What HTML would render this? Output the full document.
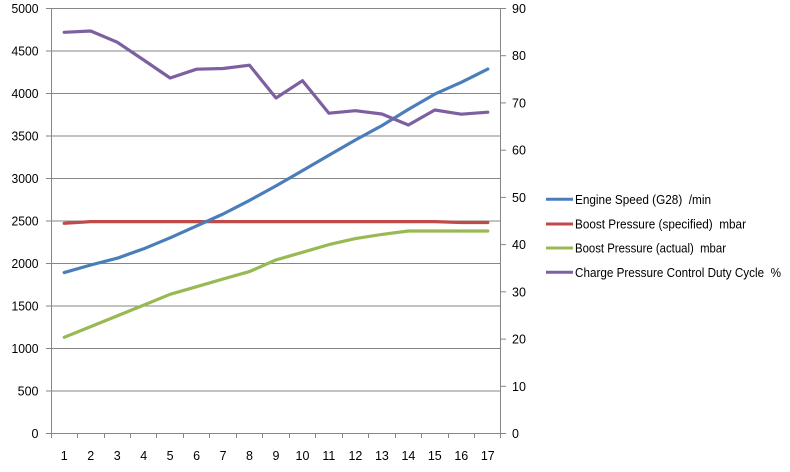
<!DOCTYPE html>
<html><head><meta charset="utf-8"><style>
html,body{margin:0;padding:0;background:#fff;}
svg{display:block;}
text{font-family:"Liberation Sans",Arial,sans-serif;fill:#000;}
</style></head><body>
<svg width="790" height="472" viewBox="0 0 790 472" xmlns="http://www.w3.org/2000/svg">
<rect width="790" height="472" fill="#fff"/>
<!-- gridlines -->
<g stroke="#868686" stroke-width="1">
<line x1="51" y1="8.5" x2="501" y2="8.5"/>
<line x1="51" y1="51" x2="501" y2="51"/>
<line x1="51" y1="93.5" x2="501" y2="93.5"/>
<line x1="51" y1="136" x2="501" y2="136"/>
<line x1="51" y1="178.5" x2="501" y2="178.5"/>
<line x1="51" y1="221" x2="501" y2="221"/>
<line x1="51" y1="263.5" x2="501" y2="263.5"/>
<line x1="51" y1="306" x2="501" y2="306"/>
<line x1="51" y1="348.5" x2="501" y2="348.5"/>
<line x1="51" y1="391" x2="501" y2="391"/>
<!-- axes -->
<line x1="51.5" y1="8" x2="51.5" y2="434"/>
<line x1="500.5" y1="8" x2="500.5" y2="434"/>
<line x1="46" y1="433.5" x2="506" y2="433.5"/>
<!-- left ticks -->
<line x1="46" y1="8.5" x2="51" y2="8.5"/>
<line x1="46" y1="51" x2="51" y2="51"/>
<line x1="46" y1="93.5" x2="51" y2="93.5"/>
<line x1="46" y1="136" x2="51" y2="136"/>
<line x1="46" y1="178.5" x2="51" y2="178.5"/>
<line x1="46" y1="221" x2="51" y2="221"/>
<line x1="46" y1="263.5" x2="51" y2="263.5"/>
<line x1="46" y1="306" x2="51" y2="306"/>
<line x1="46" y1="348.5" x2="51" y2="348.5"/>
<line x1="46" y1="391" x2="51" y2="391"/>
<!-- right ticks -->
<line x1="501" y1="8.5" x2="506" y2="8.5"/>
<line x1="501" y1="55.7" x2="506" y2="55.7"/>
<line x1="501" y1="102.9" x2="506" y2="102.9"/>
<line x1="501" y1="150.2" x2="506" y2="150.2"/>
<line x1="501" y1="197.4" x2="506" y2="197.4"/>
<line x1="501" y1="244.6" x2="506" y2="244.6"/>
<line x1="501" y1="291.8" x2="506" y2="291.8"/>
<line x1="501" y1="339.1" x2="506" y2="339.1"/>
<line x1="501" y1="386.3" x2="506" y2="386.3"/>
<!-- bottom ticks -->
<line x1="51.5" y1="433" x2="51.5" y2="438"/>
<line x1="77.5" y1="433" x2="77.5" y2="438"/>
<line x1="104.5" y1="433" x2="104.5" y2="438"/>
<line x1="130.5" y1="433" x2="130.5" y2="438"/>
<line x1="156.5" y1="433" x2="156.5" y2="438"/>
<line x1="183.5" y1="433" x2="183.5" y2="438"/>
<line x1="209.5" y1="433" x2="209.5" y2="438"/>
<line x1="236.5" y1="433" x2="236.5" y2="438"/>
<line x1="262.5" y1="433" x2="262.5" y2="438"/>
<line x1="289.5" y1="433" x2="289.5" y2="438"/>
<line x1="315.5" y1="433" x2="315.5" y2="438"/>
<line x1="342.5" y1="433" x2="342.5" y2="438"/>
<line x1="368.5" y1="433" x2="368.5" y2="438"/>
<line x1="395.5" y1="433" x2="395.5" y2="438"/>
<line x1="421.5" y1="433" x2="421.5" y2="438"/>
<line x1="448.5" y1="433" x2="448.5" y2="438"/>
<line x1="474.5" y1="433" x2="474.5" y2="438"/>
<line x1="500.5" y1="433" x2="500.5" y2="438"/>
</g>
<!-- left labels -->
<g font-size="12.5" text-anchor="end">
<text x="38.5" y="13" textLength="27" lengthAdjust="spacingAndGlyphs">5000</text>
<text x="38.5" y="55.5" textLength="27" lengthAdjust="spacingAndGlyphs">4500</text>
<text x="38.5" y="98" textLength="27" lengthAdjust="spacingAndGlyphs">4000</text>
<text x="38.5" y="140.5" textLength="27" lengthAdjust="spacingAndGlyphs">3500</text>
<text x="38.5" y="183" textLength="27" lengthAdjust="spacingAndGlyphs">3000</text>
<text x="38.5" y="225.5" textLength="27" lengthAdjust="spacingAndGlyphs">2500</text>
<text x="38.5" y="268" textLength="27" lengthAdjust="spacingAndGlyphs">2000</text>
<text x="38.5" y="310.5" textLength="27" lengthAdjust="spacingAndGlyphs">1500</text>
<text x="38.5" y="353" textLength="27" lengthAdjust="spacingAndGlyphs">1000</text>
<text x="38.5" y="395.5">500</text>
<text x="38.5" y="438">0</text>
</g>
<!-- right labels -->
<g font-size="12.5" text-anchor="start">
<text x="512" y="13">90</text>
<text x="512" y="60.2">80</text>
<text x="512" y="107.4">70</text>
<text x="512" y="154.7">60</text>
<text x="512" y="201.9">50</text>
<text x="512" y="249.1">40</text>
<text x="512" y="296.3">30</text>
<text x="512" y="343.6">20</text>
<text x="512" y="390.8">10</text>
<text x="512" y="438">0</text>
</g>
<!-- x labels -->
<g font-size="12.5" text-anchor="middle">
<text x="64.2" y="459.8">1</text>
<text x="90.7" y="459.8">2</text>
<text x="117.2" y="459.8">3</text>
<text x="143.7" y="459.8">4</text>
<text x="170.1" y="459.8">5</text>
<text x="196.6" y="459.8">6</text>
<text x="223.1" y="459.8">7</text>
<text x="249.5" y="459.8">8</text>
<text x="276" y="459.8">9</text>
<text x="302.5" y="459.8">10</text>
<text x="328.9" y="459.8">11</text>
<text x="355.4" y="459.8">12</text>
<text x="381.9" y="459.8">13</text>
<text x="408.4" y="459.8">14</text>
<text x="434.8" y="459.8">15</text>
<text x="461.3" y="459.8">16</text>
<text x="487.8" y="459.8">17</text>
</g>
<!-- series -->
<g fill="none" stroke-width="3.2" stroke-linejoin="round" stroke-linecap="round">
<polyline stroke="#be4b48" points="64.2,223.3 90.7,221.6 117.2,221.6 143.7,221.6 170.1,221.6 196.6,221.6 223.1,221.6 249.5,221.6 276,221.6 302.5,221.6 328.9,221.6 355.4,221.6 381.9,221.6 408.4,221.6 434.8,221.6 461.3,222.5 487.8,222.5"/>
<polyline stroke="#98b954" points="64.2,337.3 90.7,326.6 117.2,315.9 143.7,305.1 170.1,294.3 196.6,286.7 223.1,279 249.5,271.6 276,259.9 302.5,252.3 328.9,244.6 355.4,238.6 381.9,234.4 408.4,231 434.8,231 461.3,231 487.8,231"/>
<polyline stroke="#4a7ebb" points="64.2,272.6 90.7,265 117.2,258.2 143.7,248.8 170.1,237.8 196.6,225.9 223.1,214 249.5,200.4 276,185.9 302.5,170.6 328.9,155.3 355.4,140 381.9,125.6 408.4,109.4 434.8,94.1 461.3,82.3 487.8,69.1"/>
<polyline stroke="#7d60a0" points="64.2,32.3 90.7,31 117.2,42.2 143.7,60 170.1,78 196.6,69.2 223.1,68.5 249.5,65.2 276,98 302.5,80.7 328.9,113.2 355.4,110.7 381.9,114 408.4,125 434.8,110 461.3,114.2 487.8,112.2"/>
</g>
<!-- legend -->
<g stroke-width="3">
<line x1="546" y1="199.3" x2="573" y2="199.3" stroke="#4a7ebb"/>
<line x1="546" y1="224" x2="573" y2="224" stroke="#be4b48"/>
<line x1="546" y1="248" x2="573" y2="248" stroke="#98b954"/>
<line x1="546" y1="272.3" x2="573" y2="272.3" stroke="#7d60a0"/>
</g>
<g font-size="12.5">
<text x="575" y="203.8" textLength="136" lengthAdjust="spacingAndGlyphs" xml:space="preserve">Engine Speed (G28)  /min</text>
<text x="575" y="228.5" textLength="171" lengthAdjust="spacingAndGlyphs" xml:space="preserve">Boost Pressure (specified)  mbar</text>
<text x="575" y="252.5" textLength="151" lengthAdjust="spacingAndGlyphs" xml:space="preserve">Boost Pressure (actual)  mbar</text>
<text x="575" y="276.8" textLength="206" lengthAdjust="spacingAndGlyphs" xml:space="preserve">Charge Pressure Control Duty Cycle  %</text>
</g>
</svg>
</body></html>
